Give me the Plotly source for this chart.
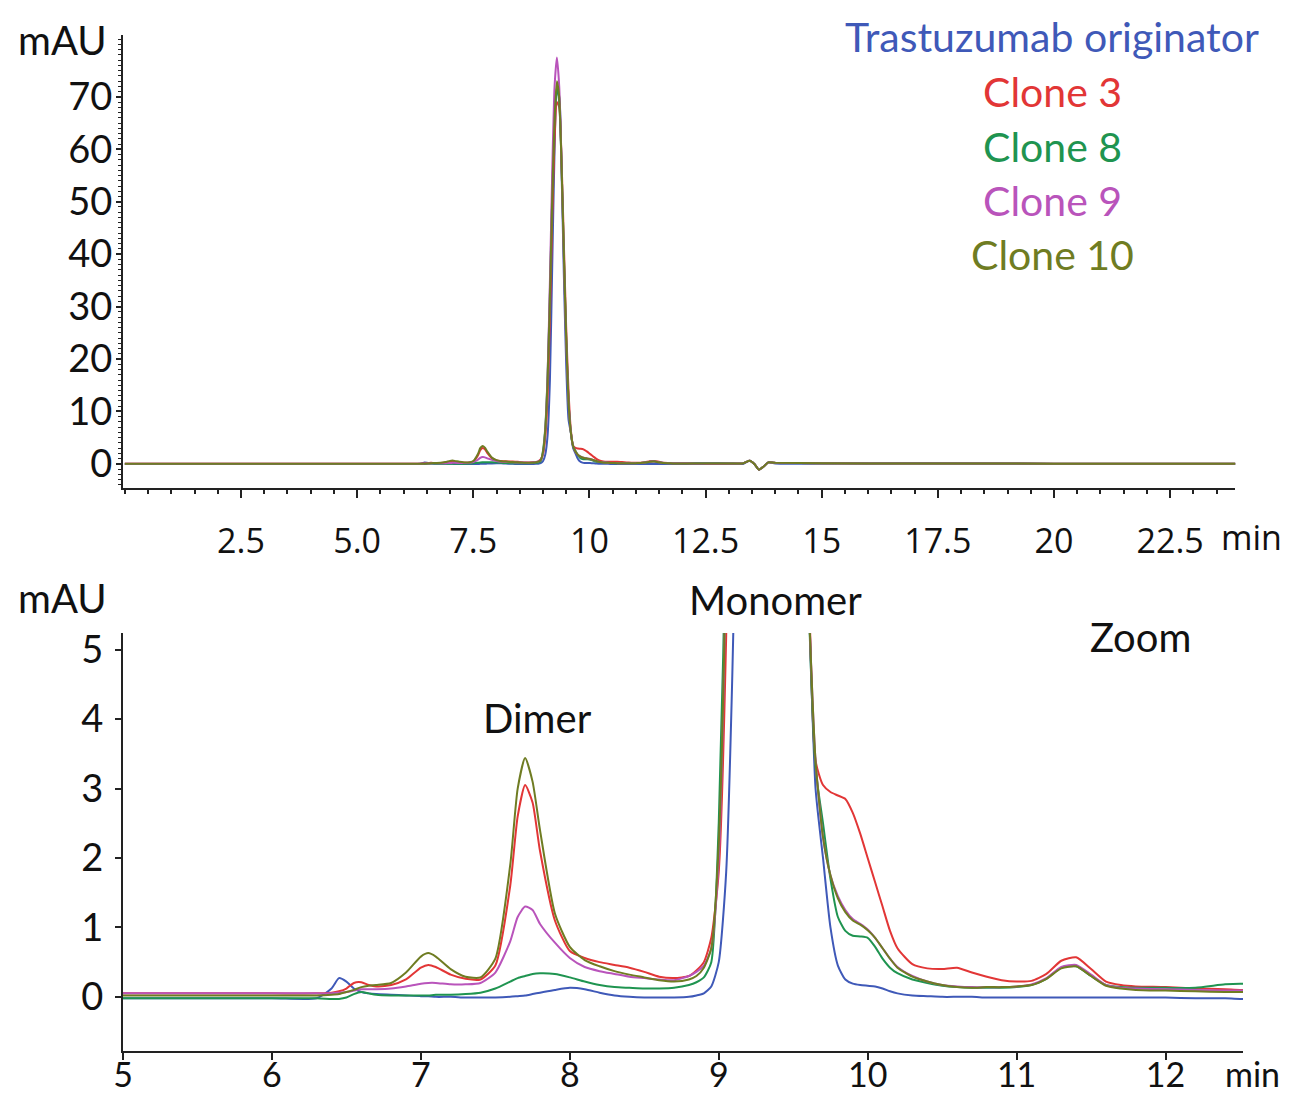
import plotly.graph_objects as go

# ---------------- data (retention time in min, absorbance in mAU) ----------------
time_min = [0, 2, 4, 5, 6, 6.3, 6.4, 6.45, 6.5, 6.55, 6.6, 6.65, 6.7, 6.8, 6.9, 7.0, 7.05, 7.1,
            7.2, 7.3, 7.4, 7.5, 7.6, 7.65, 7.7, 7.75, 7.8, 7.9, 8.0, 8.1, 8.2, 8.3, 8.4, 8.5,
            8.6, 8.7, 8.8, 8.85, 8.9, 8.95, 9.0, 9.05, 9.1, 9.15, 9.2, 9.25, 9.3, 9.35, 9.4,
            9.45, 9.5, 9.55, 9.6, 9.65, 9.7, 9.75, 9.8, 9.85, 9.9, 9.95, 10.0, 10.05, 10.1,
            10.15, 10.2, 10.3, 10.4, 10.5, 10.6, 10.7, 10.8, 10.9, 11.0, 11.1, 11.2, 11.3,
            11.4, 11.5, 11.6, 11.7, 11.8, 12.0, 12.2, 12.4, 12.5, 13.0, 13.3, 13.45, 13.55,
            13.65, 13.75, 13.85, 14.0, 16, 18, 20, 22, 24]

originator = [-0.02, -0.02, -0.02, -0.02, -0.02, -0.02, 0.12, 0.27, 0.22, 0.12, 0.07, 0.05, 0.04,
              0.03, 0.02, 0.01, 0.01, 0.0, 0.0, -0.01, -0.01, -0.01, 0.0, 0.01, 0.02, 0.04, 0.06,
              0.1, 0.13, 0.11, 0.06, 0.02, 0.0, -0.01, -0.01, -0.01, 0.0, 0.02, 0.05, 0.15, 0.5,
              1.8, 5.5, 16, 38, 60, 71, 70, 56, 36, 19, 8.5, 6.0, 3.0, 2.0, 1.0, 0.45, 0.25,
              0.19, 0.17, 0.16, 0.15, 0.12, 0.08, 0.05, 0.02, 0.01, 0.0, 0.0, 0.0, -0.01, -0.01,
              -0.01, -0.01, -0.01, -0.01, -0.01, -0.01, -0.01, -0.01, -0.01, -0.01, -0.02, -0.02,
              -0.03, 0.0, 0.0, 0.6, 0.0, -1.1, -0.5, 0.3, 0.1, 0.1, 0.1, 0.0, 0.0, 0.0]

clone3 = [0.05, 0.05, 0.05, 0.05, 0.05, 0.05, 0.06, 0.08, 0.12, 0.2, 0.21, 0.17, 0.15, 0.17,
          0.25, 0.42, 0.46, 0.43, 0.32, 0.26, 0.25, 0.45, 1.6, 2.6, 3.05, 2.8, 2.1, 1.1, 0.66,
          0.56, 0.5, 0.46, 0.42, 0.36, 0.29, 0.27, 0.3, 0.38, 0.5, 0.85, 1.8, 5.2, 13, 28, 47,
          62, 69, 68, 58, 42, 26, 14, 6.5, 3.4, 3.05, 2.95, 2.9, 2.85, 2.65, 2.35, 2.0, 1.65,
          1.3, 0.95, 0.7, 0.47, 0.41, 0.4, 0.42, 0.35, 0.29, 0.24, 0.22, 0.23, 0.33, 0.52,
          0.57, 0.4, 0.22, 0.17, 0.15, 0.14, 0.12, 0.11, 0.1, 0.1, 0.1, 0.6, 0.0, -1.1, -0.5,
          0.3, 0.2, 0.1, 0.1, 0.05, 0.05, 0.05]

clone8 = [-0.02, -0.02, -0.02, -0.02, -0.02, -0.02, -0.03, -0.03, -0.01, 0.04, 0.07, 0.05, 0.03,
          0.02, 0.02, 0.02, 0.02, 0.03, 0.03, 0.04, 0.06, 0.12, 0.22, 0.27, 0.3, 0.33, 0.34,
          0.33, 0.28, 0.22, 0.17, 0.14, 0.13, 0.12, 0.12, 0.13, 0.17, 0.21, 0.28, 0.5, 2.5, 7,
          17, 33, 52, 66, 72, 69, 57, 40, 24, 12, 6, 3.3, 2.5, 1.7, 1.15, 0.95, 0.88, 0.87,
          0.85, 0.72, 0.55, 0.42, 0.34, 0.25, 0.2, 0.16, 0.14, 0.13, 0.13, 0.13, 0.14, 0.17,
          0.26, 0.42, 0.44, 0.3, 0.17, 0.14, 0.13, 0.13, 0.13, 0.18, 0.19, 0.15, 0.1, 0.6, 0.0,
          -1.1, -0.5, 0.3, 0.2, 0.1, 0.1, 0.05, 0.05, 0.05]

clone9 = [0.05, 0.05, 0.05, 0.05, 0.05, 0.05, 0.05, 0.06, 0.07, 0.09, 0.11, 0.11, 0.11, 0.12,
          0.15, 0.19, 0.2, 0.2, 0.18, 0.18, 0.2, 0.35, 0.8, 1.15, 1.3, 1.25, 1.05, 0.78, 0.56,
          0.43, 0.37, 0.33, 0.29, 0.27, 0.25, 0.24, 0.3, 0.36, 0.45, 0.7, 2.0, 6.5, 17, 35, 56,
          72, 77.5, 72, 57, 39, 23, 12, 6, 3.4, 2.3, 1.75, 1.45, 1.25, 1.12, 1.05, 0.97, 0.85,
          0.7, 0.55, 0.43, 0.3, 0.22, 0.17, 0.15, 0.14, 0.14, 0.14, 0.15, 0.18, 0.27, 0.43,
          0.46, 0.32, 0.17, 0.13, 0.12, 0.11, 0.1, 0.09, 0.09, 0.1, 0.1, 0.6, 0.0, -1.1, -0.5,
          0.3, 0.2, 0.1, 0.1, 0.05, 0.05, 0.05]

clone10 = [0.02, 0.02, 0.02, 0.02, 0.02, 0.02, 0.03, 0.04, 0.07, 0.1, 0.14, 0.16, 0.17, 0.2,
           0.35, 0.58, 0.63, 0.58, 0.4, 0.29, 0.28, 0.55, 1.9, 3.0, 3.44, 3.1, 2.4, 1.2, 0.72,
           0.53, 0.44, 0.37, 0.32, 0.28, 0.24, 0.22, 0.25, 0.3, 0.42, 0.7, 2.2, 6.5, 16, 32, 51,
           66, 73, 70, 57, 40, 24, 12, 6, 3.4, 2.3, 1.75, 1.42, 1.22, 1.1, 1.04, 0.96, 0.85,
           0.7, 0.55, 0.42, 0.29, 0.22, 0.17, 0.14, 0.13, 0.14, 0.14, 0.15, 0.17, 0.26, 0.41,
           0.44, 0.3, 0.16, 0.12, 0.1, 0.09, 0.08, 0.07, 0.07, 0.1, 0.1, 0.6, 0.0, -1.1, -0.5,
           0.3, 0.2, 0.1, 0.1, 0.05, 0.05, 0.05]

series_names = ["Trastuzumab originator", "Clone 3", "Clone 8", "Clone 9", "Clone 10"]
series_values = [originator, clone3, clone8, clone9, clone10]
series_colors = ["#3f59b8", "#e23636", "#1f9450", "#b954bb", "#6f7c22"]

top_tick_vals = [2.5, 5.0, 7.5, 10, 12.5, 15, 17.5, 20, 22.5]
top_tick_text = ["2.5", "5.0", "7.5", "10", "12.5", "15", "17.5", "20", "22.5"]
top_y_ticks = [0, 10, 20, 30, 40, 50, 60, 70]
zoom_x_ticks = [5, 6, 7, 8, 9, 10, 11, 12]
zoom_y_ticks = [0, 1, 2, 3, 4, 5]

# ---------------- figure ----------------
FONT = "Lato"
fig = go.Figure()

for name, vals, col in zip(series_names, series_values, series_colors):
    fig.add_trace(go.Scatter(x=time_min, y=vals, mode="lines", name=name,
                             line=dict(color=col, width=2, shape="spline", smoothing=0.6),
                             xaxis="x", yaxis="y", showlegend=False))
    fig.add_trace(go.Scatter(x=time_min, y=vals, mode="lines", name=name,
                             line=dict(color=col, width=2, shape="spline", smoothing=0.6),
                             xaxis="x2", yaxis="y2", showlegend=False))

axis_common = dict(showline=True, linecolor="#222", linewidth=2, showgrid=False,
                   zeroline=False, ticks="outside", tickcolor="#222", tickwidth=2,
                   automargin=False,
                   tickfont=dict(family=FONT, size=38, color="#111"))

# page body has ~8px default margin -> figure is 16px smaller and offset by 8px
fig.update_layout(
    width=1278, height=1088,
    margin=dict(l=115, r=43, t=27, b=45),
    paper_bgcolor="white", plot_bgcolor="white",
    xaxis=dict(axis_common, domain=[0, 0.993], range=[-0.04, 23.9], anchor="y",
               tickvals=top_tick_vals, ticktext=top_tick_text, ticklen=8,
               ticklabelstandoff=14,
               tickfont=dict(family="Open Sans", size=34, color="#111"),
               minor=dict(dtick=0.5, tick0=0, ticks="outside", ticklen=4,
                          tickcolor="#222", tickwidth=1.5)),
    yaxis=dict(axis_common, domain=[0.5541, 1.0], range=[-4.6, 81.8], anchor="x",
               tickvals=top_y_ticks, ticklen=5, ticklabelstandoff=-4,
               minor=dict(dtick=1, tick0=0, ticks="outside", ticklen=3,
                          tickcolor="#222", tickwidth=1)),
    xaxis2=dict(axis_common, domain=[0, 1.0], range=[5, 12.52], anchor="y2",
                tickvals=zoom_x_ticks, ticklen=7, ticklabelstandoff=-14,
                tickfont=dict(family=FONT, size=34, color="#111")),
    yaxis2=dict(axis_common, domain=[0, 0.4114], range=[-0.78, 5.24], anchor="x2",
                tickvals=zoom_y_ticks, ticklen=6, ticklabelstandoff=4),
)

def px_to_paper(px, py):
    return (px - 123) / 1120, (1051 - py) / 1016

annots = [
    ("mAU", 62, 40, "#111", 40),
    ("mAU", 62, 598, "#111", 40),
    ("min", 1251, 537, "#111", 34),
    ("min", 1252, 1073, "#111", 34),
    ("Monomer", 775, 600, "#111", 40),
    ("Dimer", 537, 718, "#111", 40),
    ("Zoom", 1140, 637, "#111", 40),
]
for (txt, px, py, col, sz) in annots:
    xp, yp = px_to_paper(px, py)
    fam = "Open Sans" if (txt == "min" and py < 600) else FONT
    fig.add_annotation(text=txt, x=xp, y=yp, xref="paper", yref="paper",
                       xanchor="center", yanchor="middle", showarrow=False,
                       font=dict(family=fam, size=sz, color=col))

legend_y = [37, 91, 146, 200, 255]
for name, col, py in zip(series_names, series_colors, legend_y):
    xp, yp = px_to_paper(1052, py)
    fig.add_annotation(text=name, x=xp, y=yp, xref="paper", yref="paper",
                       xanchor="center", yanchor="middle", showarrow=False,
                       font=dict(family=FONT, size=41, color=col))

fig.write_html("out.html")
